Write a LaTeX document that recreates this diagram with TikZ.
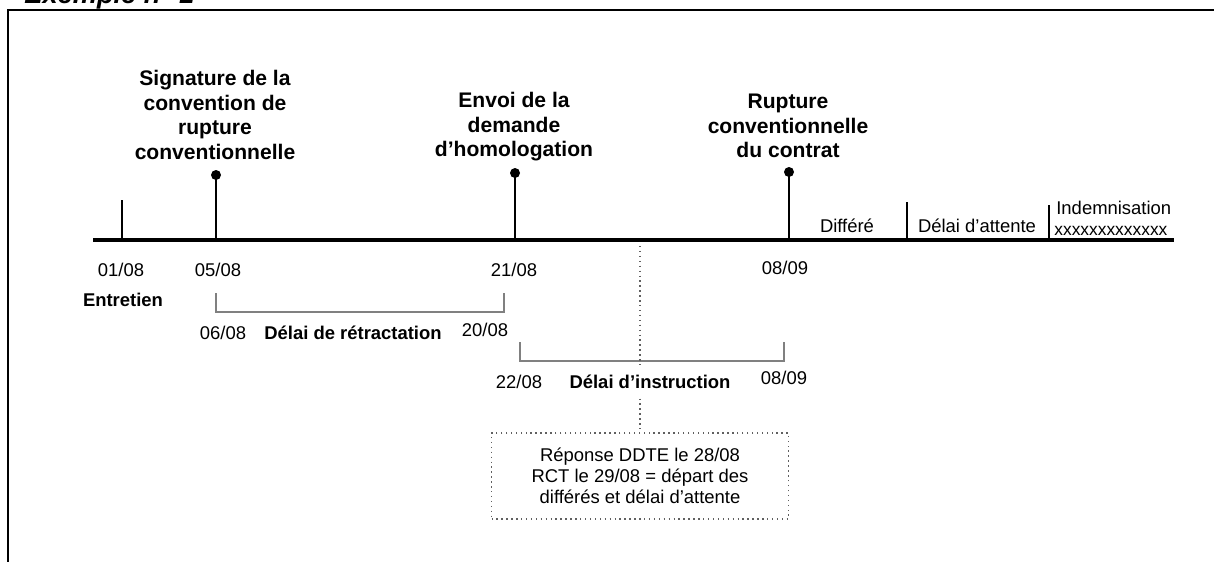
\documentclass[tikz,border=0pt]{standalone}
\usepackage{fontspec}
\setmainfont{Liberation Sans}
\definecolor{grisdelai}{HTML}{808080}
\definecolor{grispoint}{HTML}{606060}
\tikzset{
  cadre/.style={line width=1.1pt},
  axe/.style={line width=2.3pt},
  tic/.style={line width=1.6pt},
  jalon/.style={circle, fill=black, inner sep=0pt, minimum size=0.2cm},
  titre/.style={font=\bfseries\fontsize{12}{13.9}\selectfont, align=center},
  lbl/.style={font=\fontsize{10.5}{11.9}\selectfont},
  lblgras/.style={font=\bfseries\fontsize{10.5}{11.9}\selectfont},
  delai/.style={draw=grisdelai, line width=0.9pt},
  pointille/.style={draw=grispoint, dotted, line width=0.8pt}
}
\begin{document}
\begin{tikzpicture}[x=0.02cm,y=-0.02cm]
    \useasboundingbox (0,0) rectangle (1214,562);
    % cadre et titre
    \draw[cadre] (1214,10) -- (8,10) -- (8,562);
    \node[anchor=base west, inner sep=0pt, font=\bfseries\itshape\fontsize{15.5}{18}\selectfont] (exemple) at (24,3) {Exemple n° 1};
    % axe du temps
    \coordinate (debut) at (93,240);
    \coordinate (fin) at (1174,240);
    \draw[axe] (debut) -- (fin);
    % jalons
    \coordinate (entretienhaut) at (122,200);
    \node[jalon] (signaturepoint) at (216,175) {};
    \node[jalon] (envoipoint) at (515,173) {};
    \node[jalon] (rupturepoint) at (789,172) {};
    \coordinate (differehaut) at (907,202);
    \coordinate (attentehaut) at (1049,205);
    \draw[tic] (entretienhaut) -- (entretienhaut |- debut);
    \draw[tic] (signaturepoint.center) -- (signaturepoint |- debut);
    \draw[tic] (envoipoint.center) -- (envoipoint |- debut);
    \draw[tic] (rupturepoint.center) -- (rupturepoint |- debut);
    \draw[tic] (differehaut) -- (differehaut |- debut);
    \draw[tic] (attentehaut) -- (attentehaut |- debut);
    % evenements
    \node[titre] (signature) at (215,115) {Signature de la\\convention de\\rupture\\conventionnelle};
    \node[titre] (envoi) at (514,127) {Envoi de la\\demande\\d’homologation};
    \node[titre] (rupture) at (788,126) {Rupture\\conventionnelle\\du contrat};
    \node[lbl] (differe) at (847,226) {Différé};
    \node[lbl] (attente) at (977,226) {Délai d’attente};
    \node[lbl, anchor=base west, inner sep=0pt] (indemnisation) at (1056,214) {Indemnisation};
    \node[anchor=base west, inner sep=0pt, font=\fontsize{9.9}{11}\selectfont] (xxx) at (1054,235) {xxxxxxxxxxxxx};
    % dates
    \node[lbl] (d0108) at (121,270) {01/08};
    \node[lbl] (d0508) at (218,270) {05/08};
    \node[lbl] (d2108) at (514,270) {21/08};
    \node[lbl] (d0809) at (785,268) {08/09};
    \node[lblgras] (entretien) at (123,300) {Entretien};
    % delai de retractation
    \coordinate (retractdebut) at (216,293);
    \coordinate (retractfin) at (504,293);
    \draw[delai] (retractdebut) -- ++(0,19) -| (retractfin);
    \node[lbl] (d0608) at (223,333) {06/08};
    \node[lblgras] (retractation) at (353,333) {Délai de rétractation};
    \node[lbl] (d2008) at (485,330) {20/08};
    % delai d'instruction
    \coordinate (instrdebut) at (520,342);
    \coordinate (instrfin) at (784,342);
    \draw[delai] (instrdebut) -- ++(0,19) -| (instrfin);
    % reponse
    \node[lbl, draw=grispoint, dotted, line width=0.8pt, align=center, minimum width=5.94cm, minimum height=1.72cm] (reponse) at (640,476) {Réponse DDTE le 28/08\\RCT le 29/08 = départ des\\différés et délai d’attente};
    \coordinate (reponsehaut) at (640,246);
    \draw[pointille] (reponsehaut) -- (reponse.north);
    \node[lbl] (d2208) at (519,382) {22/08};
    \node[lblgras, fill=white, inner ysep=5pt] (instruction) at (650,382) {Délai d’instruction};
    \node[lbl] (d0809b) at (784,378) {08/09};
\end{tikzpicture}
\end{document}
